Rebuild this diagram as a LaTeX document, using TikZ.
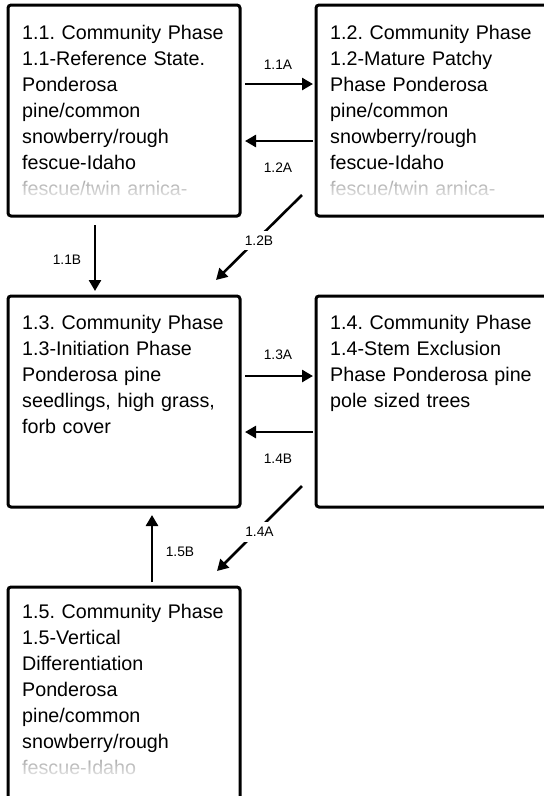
\documentclass[tikz,border=0pt]{standalone}
\usepackage{fontspec}
\setmainfont{Liberation Sans}
\usetikzlibrary{arrows.meta,calc,fadings}
\tikzfading[name=fadetxt, top color=transparent!35, bottom color=transparent!5]
\frenchspacing
\begin{document}
\begin{tikzpicture}[x=1pt,y=1pt,
  box/.style={draw, line width=3pt, rounded corners=3pt, minimum width=232pt,
    outer sep=0pt, inner sep=0pt, anchor=north west},
  boxtext/.style={anchor=base west, inner sep=0pt, align=left, text width=225pt,
    font=\fontsize{19.7}{26}\selectfont\frenchspacing},
  arr/.style={line width=2.6pt, -{Triangle[length=11pt,width=12pt]}},
  lab/.style={font=\fontsize{13.8}{15}\selectfont, inner sep=1pt},
  gaplab/.style={lab, fill=white, inner sep=5pt},
  fadebox/.style={fill=white, path fading=fadetxt}]
\useasboundingbox (0,0) rectangle (544,-796);
\clip (0,0) rectangle (544,-796);

% boxes
\node[box, minimum height=211pt] (b11) at (8,-5) {};
\node[box, minimum height=211pt, minimum width=250pt] (b12) at (316,-5) {};
\node[box, minimum height=211pt] (b13) at (8,-296) {};
\node[box, minimum height=211pt, minimum width=250pt] (b14) at (316,-296) {};
\node[box, minimum height=240pt] (b15) at (8,-587) {};

% texts
\node[boxtext] (t11) at ($(b11.north west)+(14,-34.5)$)
  {1.1. Community Phase\\1.1-Reference State.\\Ponderosa\\pine/common\\snowberry/rough\\fescue-Idaho\\fescue/twin arnica-};
\node[boxtext] (t12) at ($(b12.north west)+(14,-34.5)$)
  {1.2. Community Phase\\1.2-Mature Patchy\\Phase Ponderosa\\pine/common\\snowberry/rough\\fescue-Idaho\\fescue/twin arnica-};
\node[boxtext] (t13) at ($(b13.north west)+(14,-33)$)
  {1.3. Community Phase\\1.3-Initiation Phase\\Ponderosa pine\\seedlings, high grass,\\forb cover};
\node[boxtext] (t14) at ($(b14.north west)+(14,-33)$)
  {1.4. Community Phase\\1.4-Stem Exclusion\\Phase Ponderosa pine\\pole sized trees};
\node[boxtext] (t15) at ($(b15.north west)+(14,-31)$)
  {1.5. Community Phase\\1.5-Vertical\\Differentiation\\Ponderosa\\pine/common\\snowberry/rough\\fescue-Idaho};

% faded last lines
\fill[fadebox] (18,-179) rectangle (237,-201);
\fill[fadebox] (326,-179) rectangle (544,-201);
\fill[fadebox] (18,-758) rectangle (237,-780);

% horizontal connectors
\draw[arr, shorten <=5pt, shorten >=3pt] ([yshift=26.5pt]b11.east) -- ([yshift=26.5pt]b12.west)
  node[lab, midway, yshift=19pt] {1.1A};
\draw[arr, shorten <=3pt, shorten >=5pt] ([yshift=-30.5pt]b12.west) -- ([yshift=-30.5pt]b11.east)
  node[lab, midway, yshift=-27pt] {1.2A};
\draw[arr, shorten <=5pt, shorten >=3pt] ([yshift=25.5pt]b13.east) -- ([yshift=25.5pt]b14.west)
  node[lab, midway, yshift=21pt] {1.3A};
\draw[arr, shorten <=3pt, shorten >=5pt] ([yshift=-30.5pt]b14.west) -- ([yshift=-30.5pt]b13.east)
  node[lab, midway, yshift=-27pt] {1.4B};

% vertical connectors
\draw[arr, shorten <=9pt, shorten >=5pt] ([xshift=-29pt]b11.south) -- ([xshift=-29pt]b13.north)
  node[lab, midway, xshift=-28pt, yshift=-4pt] {1.1B};
\draw[arr, shorten <=5pt, shorten >=8pt] ([xshift=28pt]b15.north) -- ([xshift=28pt]b13.south)
  node[lab, midway, xshift=28pt, yshift=-4.5pt] {1.5B};

% diagonal connectors
\draw[arr] ($(b12.south west)+(-14,21)$) -- node[gaplab, yshift=-3pt] {1.2B} ($(b13.north east)+(-24,16)$);
\draw[arr] ($(b14.south west)+(-14,21)$) -- node[gaplab, yshift=-3.5pt] {1.4A} ($(b15.north east)+(-23,16)$);
\end{tikzpicture}
\end{document}
